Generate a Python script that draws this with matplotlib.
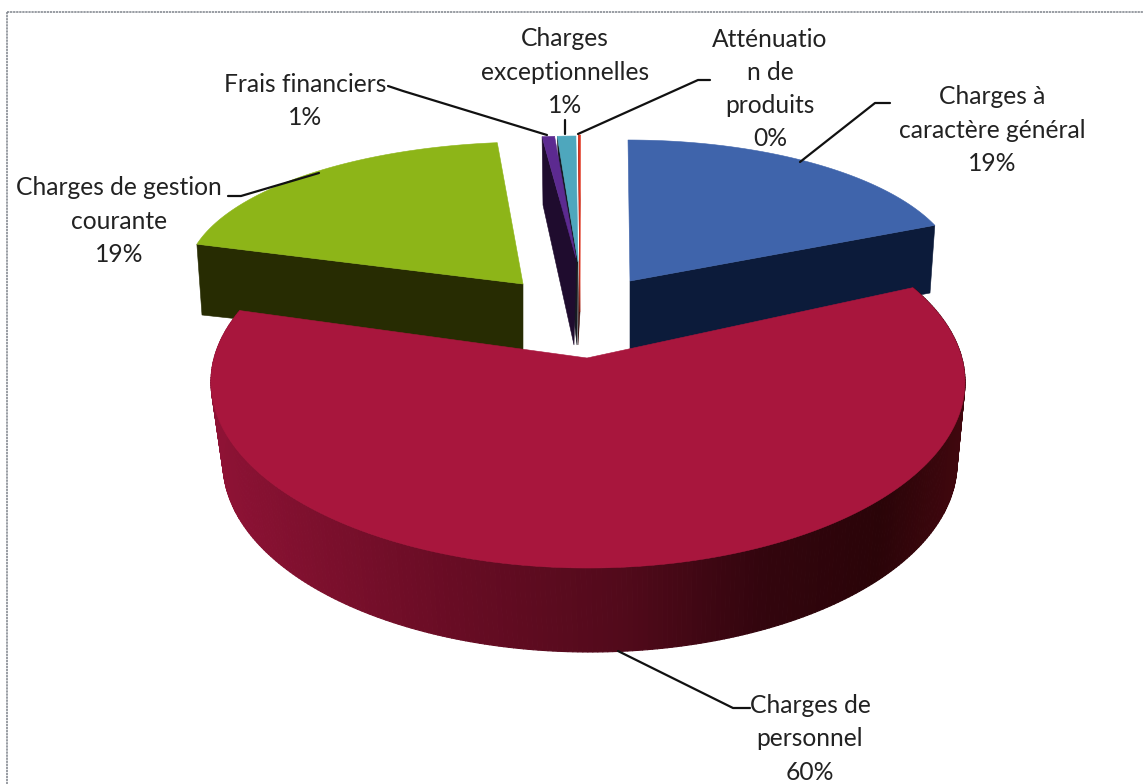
import numpy as np
import matplotlib
matplotlib.use("Agg")
import matplotlib.pyplot as plt
from matplotlib.patches import Polygon
from matplotlib.collections import PolyCollection
from matplotlib.colors import to_rgb

# data
categories = ["Charges à caractère général", "Charges de personnel",
              "Charges de gestion courante", "Frais financiers",
              "Charges exceptionnelles", "Atténuation de produits"]
shares = [19.0, 60.0, 19.4, 0.6, 0.9, 0.1]
label_texts = ["Charges à\ncaractère général\n19%", "Charges de\npersonnel\n60%",
               "Charges de gestion\ncourante\n19%", "Frais financiers\n1%",
               "Charges\nexceptionnelles\n1%", "Atténuatio\nn de\nproduits\n0%"]

# layout (pixel coordinates): ellipse centre, radii, apex, thickness geometry
ell = [(628, 275, 330, 135), (588, 382, 377, 186), (532, 278, 346, 136),
       (575.5, 280, 333, 144), (578, 280, 330, 144), (580.5, 280, 330, 145)]
apex_top = [(630, 281), (587, 358), (523, 284), (576, 258), (578, 262), (580, 312)]
apex_bot = [(630, 350), (587, 358), (523, 350), (574, 345), (577, 345), (578, 345)]
outer_bot = [(930, 293), None, (202, 315), (543, 205), (560, 200), (580, 200)]
top_cols = ["#3f64ab", "#a8163d", "#8db518", "#5c2a90", "#4ea7bd", "#e0341f"]
face_cols = ["#0c1b3a", None, "#272c02", "#1f0c2e", "#161a22", "#3a1010"]
label_xy = [(992, 130), (810, 739), (119, 221), (305, 101), (565, 72), (770, 89)]
leaders = [[(890, 103), (875, 103), (800, 162)],
           [(750, 708), (733, 708), (618, 651)],
           [(228, 196), (241, 196), (319, 173)],
           [(388, 86), (403, 91), (547, 135)],
           [(565, 120), (565, 134)],
           [(710, 80), (698, 80), (578, 134)]]
red_bottom = (590, 463, 367, 189)
red_gain = 1.079          # perspective widens the near slice
red_shift = np.radians(-0.35)
side_x = [212, 300, 450, 620, 760, 880, 962]
side_rgb = ["#8e1235", "#7f102e", "#680c24", "#520a1b", "#33050e", "#2a0408", "#40070e"]

fig = plt.figure(figsize=(11.43, 7.84), dpi=100)
ax = fig.add_axes([0, 0, 1, 1])
ax.set_xlim(0, 1143)
ax.set_ylim(784, 0)
ax.axis("off")
ax.plot([7, 1143], [12, 12], color="#7d828a", lw=1.1, ls=(0, (1.5, 0.5)))
ax.plot([7, 7], [12, 784], color="#7d828a", lw=1.1, ls=(0, (1.5, 0.5)))

edges = np.cumsum([0] + shares) / sum(shares) * 2 * np.pi


def arc(e, a0, a1, n=120):
    t = np.linspace(a0, a1, n)
    return np.c_[e[0] + e[2] * np.sin(t), e[1] - e[3] * np.cos(t)]


def draw_slice(i, z_face, z_top):
    a0, a1 = edges[i], edges[i + 1]
    pts = arc(ell[i], a0, a1)
    # cut face: the trailing edge for the blue slice, the leading edge otherwise
    corner = pts[-1] if i == 0 else pts[0]
    ax.add_patch(Polygon([corner, outer_bot[i], apex_bot[i], apex_top[i]], closed=True,
                         fc=face_cols[i], ec=face_cols[i], lw=0.4, zorder=z_face))
    ax.add_patch(Polygon(np.vstack([[apex_top[i]], pts]), closed=True,
                         fc=top_cols[i], ec=top_cols[i], lw=0.4, zorder=z_top))


draw_slice(0, 2.0, 2.1)
draw_slice(2, 2.0, 2.1)
draw_slice(5, 2.2, 2.3)
draw_slice(4, 2.4, 2.8)   # teal wall sits behind the purple slice
draw_slice(3, 2.5, 2.6)

# large slice: outer wall with gradient, then top
r_mid = (edges[1] + edges[2]) / 2 + red_shift
r_half = (edges[2] - edges[1]) / 2 * red_gain
r_a0, r_a1 = r_mid - r_half, r_mid + r_half
up = arc(ell[1], r_a0, r_a1, 300)
lo = arc(red_bottom, r_a0, r_a1, 300)
quads = [[up[k], up[k + 1], lo[k + 1], lo[k]] for k in range(299)]
xs = np.array([(q[0][0] + q[1][0]) / 2 for q in quads])
rgb = np.array([to_rgb(c) for c in side_rgb])
cols = np.c_[[np.interp(xs, side_x, rgb[:, j]) for j in range(3)]].T
ax.add_collection(PolyCollection(quads, facecolors=cols, edgecolors=cols, linewidths=0.8, zorder=3))
ax.add_patch(Polygon(np.vstack([[apex_top[1]], up]), closed=True, fc=top_cols[1], ec=top_cols[1],
                     lw=0.4, zorder=3.2))

for path in leaders:
    p = np.array(path)
    ax.plot(p[:, 0], p[:, 1], color="#111111", lw=1.6, zorder=5, solid_capstyle="round")

for txt, (x, y) in zip(label_texts, label_xy):
    ax.text(x, y, txt, ha="center", va="center", family="Lato", fontsize=17.7,
            color="#222222", linespacing=1.54, zorder=6)

fig.savefig("out.png", dpi=100, facecolor="white")
